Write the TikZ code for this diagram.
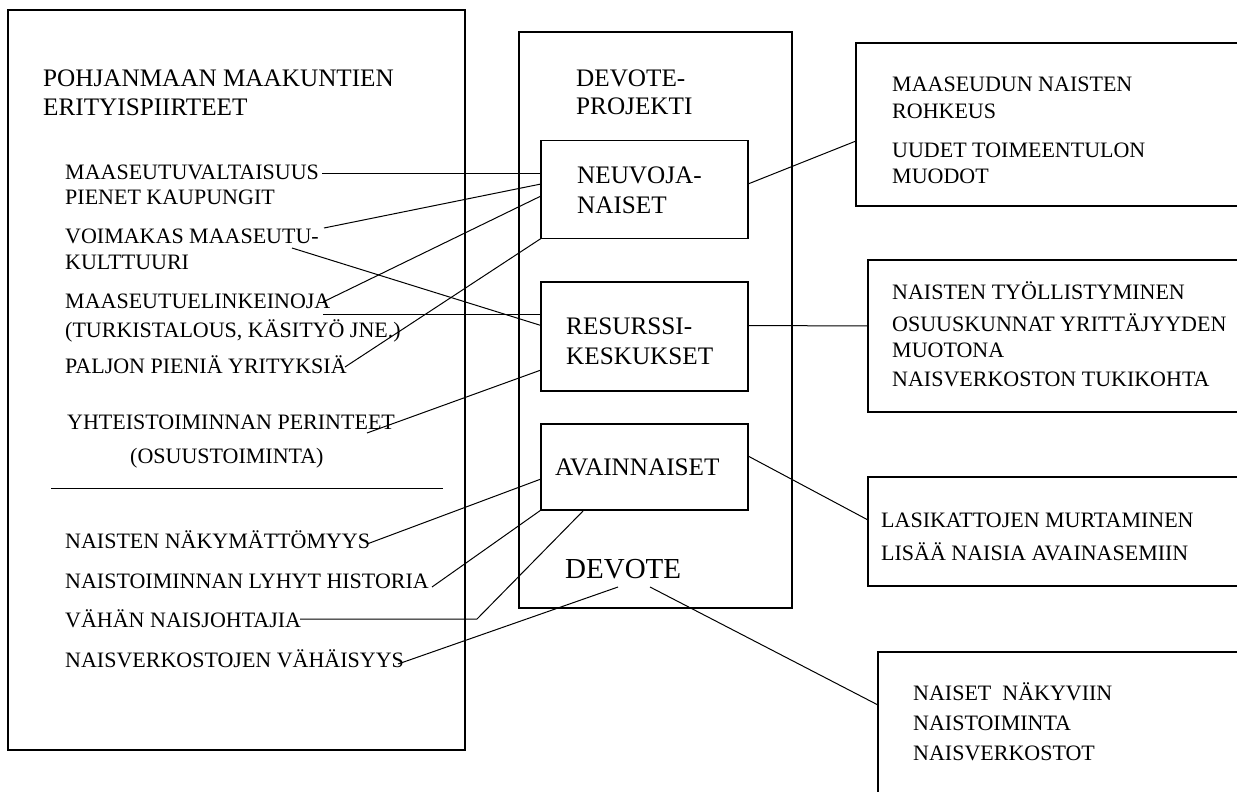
\documentclass[tikz,border=0pt]{standalone}
\usepackage{fontspec}
\setmainfont{Liberation Serif}
\begin{document}
\begin{tikzpicture}[x=1pt,y=-1pt,
  box/.style={draw, line width=1.3pt, inner sep=0pt, outer sep=0pt},
  conn/.style={line width=1pt},
  txt/.style={anchor=base west, inner sep=0pt, font=\fontsize{22}{26}\selectfont},
  head/.style={anchor=base west, inner sep=0pt, font=\fontsize{25.2}{30}\selectfont},
  big/.style={anchor=base west, inner sep=0pt, font=\fontsize{29}{34}\selectfont}]
\path[use as bounding box, clip] (0,0) rectangle (1237,792);
\fill[white] (0,0) rectangle (1237,792);

% boxes
\node[box, minimum width=457pt, minimum height=740pt] (leftbox) at (236.5,380) {};
\node[box, minimum width=273pt, minimum height=576pt] (midbox) at (655.5,320) {};
\node[box, minimum width=207pt, minimum height=98pt] (neu) at (644.5,189.5) {};
\node[box, minimum width=207pt, minimum height=109pt] (res) at (644.5,336.5) {};
\node[box, minimum width=207pt, minimum height=86pt] (ava) at (644.5,467) {};
\node[box, minimum width=404pt, minimum height=163pt] (r1) at (1058,124.5) {};
\node[box, minimum width=392pt, minimum height=152pt] (r2) at (1064,336) {};
\node[box, minimum width=392pt, minimum height=109pt] (r3) at (1064,531.5) {};
\node[box, minimum width=382pt, minimum height=160pt] (r4) at (1069,732) {};

% left texts
\node[head] (t1) at (43,86) {POHJANMAAN MAAKUNTIEN};
\node[head] (t2) at (43,115) {ERITYISPIIRTEET};
\node[txt] (a1) at (65,179) {MAASEUTUVALTAISUUS};
\node[txt] (a2) at (65,204) {PIENET KAUPUNGIT};
\node[txt] (a3) at (65,243) {VOIMAKAS MAASEUTU-};
\node[txt] (a4) at (65,269) {KULTTUURI};
\node[txt] (a5) at (65,308) {MAASEUTUELINKEINOJA};
\node[txt] (a6) at (65,337) {(TURKISTALOUS, KÄSITYÖ JNE.)};
\node[txt] (a7) at (65,373) {PALJON PIENIÄ YRITYKSIÄ};
\node[txt] (a8) at (67,429) {YHTEISTOIMINNAN PERINTEET};
\node[txt] (a9) at (130,463) {(OSUUSTOIMINTA)};
\coordinate (sepA) at (51,488);
\coordinate (sepB) at (443,488);
\draw[conn] (sepA) -- (sepB);
\node[txt] (b1) at (65,548) {NAISTEN NÄKYMÄTTÖMYYS};
\node[txt] (b2) at (65,588) {NAISTOIMINNAN LYHYT HISTORIA};
\node[txt] (b3) at (65,627) {VÄHÄN NAISJOHTAJIA};
\node[txt] (b4) at (65,667) {NAISVERKOSTOJEN VÄHÄISYYS};

% middle texts
\node[head] (m1) at (576,87) {DEVOTE-};
\node[head] (m2) at (576,114) {PROJEKTI};
\node[head] (n1) at (577,183) {NEUVOJA-};
\node[head] (n2) at (577,213) {NAISET};
\node[head] (s1) at (566,334) {RESURSSI-};
\node[head] (s2) at (566,364) {KESKUKSET};
\node[head] (v1) at (555,475) {AVAINNAISET};
\node[big] (dev) at (565,578) {DEVOTE};

% right texts
\node[txt] (p1) at (892,92) {MAASEUDUN NAISTEN};
\node[txt] (p2) at (892,118) {ROHKEUS};
\node[txt] (p3) at (892,157) {UUDET TOIMEENTULON};
\node[txt] (p4) at (892,183) {MUODOT};
\node[txt] (q1) at (892,299) {NAISTEN TYÖLLISTYMINEN};
\node[txt] (q2) at (892,331) {OSUUSKUNNAT YRITTÄJYYDEN};
\node[txt] (q3) at (892,357) {MUOTONA};
\node[txt] (q4) at (892,386) {NAISVERKOSTON TUKIKOHTA};
\node[txt] (u1) at (881,527) {LASIKATTOJEN MURTAMINEN};
\node[txt] (u2) at (881,560) {LISÄÄ NAISIA AVAINASEMIIN};
\node[txt] (w1) at (913,700) {NAISET\ \ NÄKYVIIN};
\node[txt] (w2) at (913,730) {NAISTOIMINTA};
\node[txt] (w3) at (913,760) {NAISVERKOSTOT};

% free ends
\coordinate (e1) at (322,173);
\coordinate (e2) at (324,228);
\coordinate (e3) at (292,248);
\coordinate (e4) at (323,302);
\coordinate (e5) at (323,314);
\coordinate (e6) at (345,367);
\coordinate (e7) at (367,433);
\coordinate (e8) at (367,544);
\coordinate (e9) at (432,587);
\coordinate (e10) at (300,619);
\coordinate (e10b) at (477,619);
\coordinate (e11) at (398,664);
\coordinate (dl) at (618,587);
\coordinate (dr) at (650,587);

% connectors left
\draw[conn] (e1) -- (neu.west |- 0,173);
\draw[conn] (e2) -- (neu.west |- 0,184);
\draw[conn] (e3) -- (res.west |- 0,325.5);
\draw[conn] (e4) -- (neu.west |- 0,196);
\draw[conn] (e5) -- (res.west |- 0,314);
\draw[conn] (e6) -- (neu.south west);
\draw[conn] (e7) -- (res.west |- 0,370);
\draw[conn] (e8) -- (ava.west |- 0,479);
\draw[conn] (e9) -- (ava.south west);
\draw[conn] (e10) -- (e10b) -- (ava.south -| 584,0);
\draw[conn] (e11) -- (dl);

% connectors right
\draw[conn] (neu.east |- 0,184) -- (r1.west |- 0,141);
\draw[conn] (res.east |- 0,325.5) -- (r2.west |- 0,326);
\draw[conn] (ava.east |- 0,456) -- (r3.west |- 0,520);
\draw[conn] (dr) -- (r4.west |- 0,705);
\end{tikzpicture}
\end{document}
